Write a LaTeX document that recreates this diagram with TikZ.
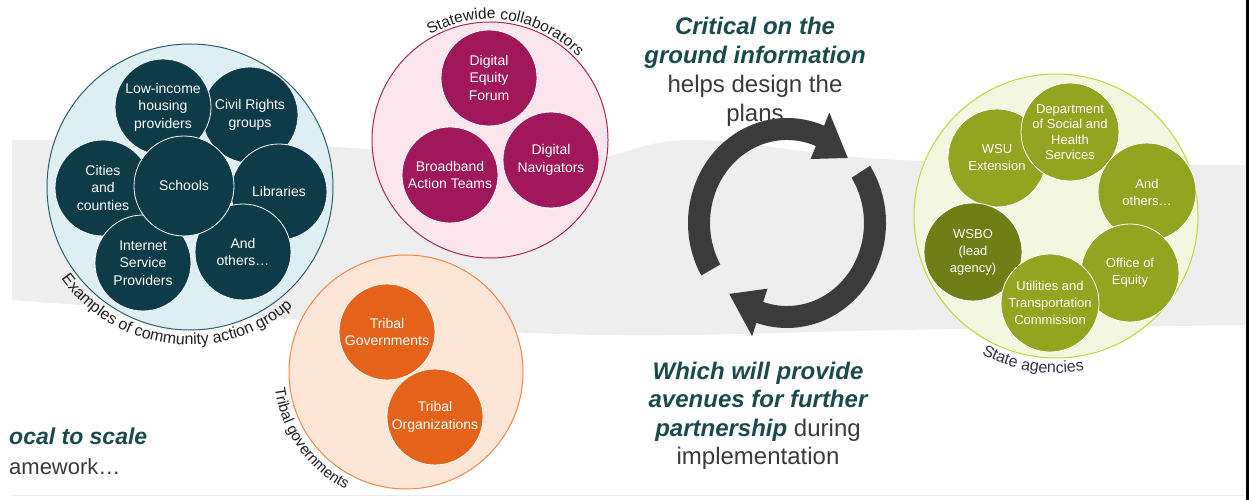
\documentclass[tikz,border=0pt]{standalone}
\usepackage{fontspec}
\setmainfont{Liberation Sans}
\usetikzlibrary{decorations.text}
\definecolor{bandc}{HTML}{EEEEEE}
\definecolor{commfill}{HTML}{DDEEF4}
\definecolor{commdraw}{HTML}{2E5E68}
\definecolor{teal}{HTML}{0D3C48}
\definecolor{pinkfill}{HTML}{FCE6EE}
\definecolor{pinkdraw}{HTML}{A8245E}
\definecolor{magen}{HTML}{A0175A}
\definecolor{peachfill}{HTML}{FDE6D5}
\definecolor{peachdraw}{HTML}{EF8647}
\definecolor{orng}{HTML}{E5621A}
\definecolor{grnfill}{HTML}{F3F7DF}
\definecolor{grndraw}{HTML}{BED73C}
\definecolor{olive}{HTML}{93A520}
\definecolor{darkolive}{HTML}{6F7F15}
\definecolor{arrowc}{HTML}{3B3B3B}
\definecolor{headc}{HTML}{1B4A4C}
\definecolor{bodyc}{HTML}{3A3A3A}
\definecolor{lblc}{HTML}{1E1E1E}
\definecolor{lblb}{HTML}{30304A}
\begin{document}
\begin{tikzpicture}[x=1pt,y=1pt,
  bigc/.style={circle, inner sep=0pt, line width=1pt},
  smallc/.style={circle, draw=white, line width=0.8pt, inner sep=0pt, minimum size=96pt, text=white, align=center},
  commtxt/.style={font=\fontsize{14}{17.5}\selectfont},
  grntxt/.style={font=\fontsize{13}{17}\selectfont},
  headtxt/.style={anchor=base, text=headc, font=\fontsize{24}{29}\selectfont\bfseries\itshape, inner sep=0pt},
  bodytxt/.style={anchor=base, text=bodyc, font=\fontsize{24}{29}\selectfont, inner sep=0pt},
  curvelbl/.style={decorate, decoration={text along path, text align=center, text color=#1}}
]
\useasboundingbox (0,0) rectangle (1249,500);
% background band
\fill[bandc] plot[smooth, tension=0.6] coordinates {(12,360) (300,355) (560,338) (690,360) (900,340) (1245,335)}
  -- plot[smooth, tension=0.6] coordinates {(1245,175) (900,170) (600,165) (300,180) (12,200)} -- cycle;
\fill[black] (1245.5,0) rectangle (1249,500);
\draw[line width=1pt, black!8] (12,4) -- (1245,4);

% community action group
\node[bigc, fill=commfill, draw=commdraw, minimum size=286pt] (comm) at (190,313) {};
\node[smallc, commtxt, fill=teal] (civil) at (250,385) {Civil Rights\\groups};
\node[smallc, commtxt, fill=teal] (lowinc) at (163,393) {Low-income\\housing\\providers};
\node[smallc, commtxt, fill=teal] (cities) at (103,312) {Cities\\and\\counties};
\node[smallc, commtxt, fill=teal] (isp) at (143,237) {Internet\\Service\\Providers};
\node[smallc, commtxt, fill=teal] (libr) at (279,308) {Libraries};
\node[smallc, commtxt, fill=teal] (otha) at (243,248) {And\\others…};
\node[smallc, commtxt, fill=teal, minimum size=100pt] (schools) at (184,314) {Schools};
\path[curvelbl=lblc, decoration={text={|\fontsize{16}{16}\selectfont|Examples of community action group}}]
  ([shift={(211:158)}]comm.center) arc[start angle=211, end angle=315, radius=158];

% statewide collaborators
\node[bigc, fill=pinkfill, draw=pinkdraw, minimum size=236pt] (stat) at (490,360) {};
\node[smallc, commtxt, fill=magen] (def) at (489,422) {Digital\\Equity\\Forum};
\node[smallc, commtxt, fill=magen] (bat) at (450,325) {Broadband\\Action Teams};
\node[smallc, commtxt, fill=magen] (dn) at (551,340) {Digital\\Navigators};
\path[curvelbl=lblc, decoration={text={|\fontsize{15.5}{15.5}\selectfont|Statewide collaborators}}]
  ([shift={(126:121)}]stat.center) arc[start angle=126, end angle=37, radius=121];

% tribal governments
\node[bigc, fill=peachfill, draw=peachdraw, minimum size=234pt] (trib) at (406,128) {};
\node[smallc, commtxt, fill=orng] (tg) at (387,168) {Tribal\\Governments};
\node[smallc, commtxt, fill=orng] (to) at (435,83) {Tribal\\Organizations};
\path[curvelbl=lblc, decoration={text={|\fontsize{15}{15}\selectfont|Tribal governments}}]
  ([shift={(182:132)}]trib.center) arc[start angle=182, end angle=248, radius=132];

% state agencies
\node[bigc, fill=grnfill, draw=grndraw, minimum size=284pt] (stag) at (1056,284) {};
\node[smallc, grntxt, fill=olive, minimum size=98pt] (wsu) at (997,342) {WSU\\Extension};
\node[smallc, fill=olive, minimum size=98pt, font=\fontsize{13}{15.5}\selectfont] (dshs) at (1070,368) {Department\\of Social and\\Health\\Services};
\node[smallc, grntxt, fill=olive, minimum size=98pt] (ao) at (1147,308) {And\\others…};
\node[smallc, grntxt, fill=darkolive, minimum size=98pt] (wsbo) at (973,248) {WSBO\\(lead\\agency)};
\node[smallc, grntxt, fill=olive, minimum size=98pt] (oe) at (1130,227) {Office of\\Equity};
\node[smallc, grntxt, fill=olive, minimum size=98pt] (utc) at (1050,197) {Utilities and\\Transportation\\Commission};
\path[curvelbl=lblb, decoration={text={|\fontsize{16}{16}\selectfont|State agencies}}]
  ([shift={(237:157)}]stag.center) arc[start angle=237, end angle=285, radius=157];

% central texts
\node[headtxt] (t1) at (755,465) {Critical on the};
\node[headtxt] (t2) at (755,436) {ground information};
\node[bodytxt] (t3) at (755,407) {helps design the};
\node[bodytxt] (t4) at (755,378) {plans};
\node[headtxt] (t5) at (758,120) {Which will provide};
\node[headtxt] (t6) at (758,92) {avenues for further};
\node[bodytxt] (t7) at (758,63) {\textbf{\textit{\color{headc}partnership}} during};
\node[bodytxt] (t8) at (758,35) {implementation};

% left texts
\node[headtxt, anchor=base west, font=\fontsize{23}{28}\selectfont\bfseries\itshape] (l1) at (9,55) {ocal to scale};
\node[bodytxt, anchor=base west, font=\fontsize{22}{28}\selectfont] (l2) at (9,25) {amework…};

% cycle arrows
\coordinate (cyc) at (787,277);
\fill[arrowc] ([shift={(210:99 and 105)}]cyc) arc[start angle=210, end angle=68, x radius=99, y radius=105]
  -- ([shift={(68:113 and 119)}]cyc) -- ([shift={(45:86 and 92)}]cyc) -- ([shift={(68:63 and 69)}]cyc)
  -- ([shift={(68:77 and 83)}]cyc) arc[start angle=68, end angle=210, x radius=77, y radius=83] -- cycle;
\fill[arrowc] ([shift={(33:99 and 105)}]cyc) arc[start angle=33, end angle=-108, x radius=99, y radius=105]
  -- ([shift={(-108:113 and 119)}]cyc) -- ([shift={(-131:88 and 94)}]cyc) -- ([shift={(-108:63 and 69)}]cyc)
  -- ([shift={(-108:77 and 83)}]cyc) arc[start angle=-108, end angle=33, x radius=77, y radius=83] -- cycle;
\end{tikzpicture}
\end{document}
